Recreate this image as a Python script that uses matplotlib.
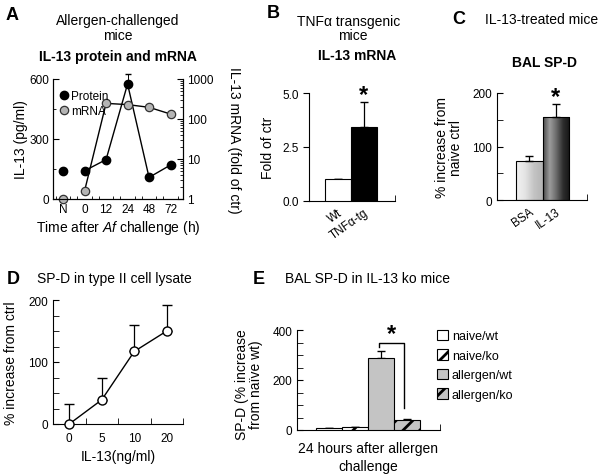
import numpy as np
import matplotlib.pyplot as plt
from matplotlib.colors import LinearSegmentedColormap
from matplotlib.ticker import MultipleLocator, FixedLocator, LogLocator, NullFormatter

plt.rcParams['font.family'] = ['Liberation Sans', 'DejaVu Sans']
plt.rcParams['mathtext.fontset'] = 'custom'
plt.rcParams['mathtext.it'] = 'Liberation Sans:italic'
plt.rcParams['mathtext.rm'] = 'Liberation Sans'
plt.rcParams['hatch.linewidth'] = 2.0
plt.rcParams['axes.linewidth'] = 0.8

# A: allergen-challenged mice, IL-13 protein and mRNA
a_times = ['N', '0', '12', '24', '48', '72']
a_protein = [141, 141, 197, 575, 108, 170]
a_protein_err = [10, 6, 8, 50, 5, 12]
a_mrna = [1.0, 1.6, 246, 229, 196, 133]

# B: TNFa transgenic mice, IL-13 mRNA
b_groups = ['Wt', 'TNFα-tg']
b_fold = [1.0, 3.44]
b_err = [0.02, 1.16]

# C: IL-13 treated mice, BAL SP-D
c_groups = ['BSA', 'IL-13']
c_increase = [72, 155]
c_err = [11, 24]

# D: SP-D in type II cell lysate
d_doses = ['0', '5', '10', '20']
d_increase = [0, 39, 117, 150]
d_err = [32, 35, 43, 42]

# E: BAL SP-D in IL-13 ko mice
e_groups = ['naive/wt', 'naive/ko', 'allergen/wt', 'allergen/ko']
e_increase = [9, 11, 287, 41]
e_err = [1, 1, 30, 3]

W, H = 601, 477
fig = plt.figure(figsize=(W / 100, H / 100), dpi=100)


def box(x0, y0, x1, y1):
    return [x0 / W, 1 - y1 / H, (x1 - x0) / W, (y1 - y0) / H]


def ftext(x, y, s, **kw):
    kw.setdefault('ha', 'center')
    kw.setdefault('va', 'center')
    fig.text(x / W, 1 - y / H, s, **kw)


TICK = 8.5
LAB = 10

# ---------------- A ----------------
ax = fig.add_axes(box(53, 80, 183, 200))
ax2 = ax.twinx()
x = np.arange(len(a_times))
ax.errorbar(x, a_protein, yerr=[np.zeros(len(a_protein_err)), a_protein_err],
            fmt='none', ecolor='k', elinewidth=0.7, capsize=2.5, clip_on=False,
            zorder=2)
ax.plot(x[1:], a_protein[1:], '-', color='k', lw=1, zorder=3)
hp, = ax.plot(x, a_protein, 'o', ms=6, mfc='k', mec='k', zorder=4,
              clip_on=False, label='Protein')
ax2.plot(x[1:], a_mrna[1:], '-', color='k', lw=1)
hm, = ax2.plot(x, a_mrna, 'o', ms=6, mfc='#b4b4b4', mec='#333333',
               mew=0.9, clip_on=False, label='mRNA')
ax.set_xlim(-0.47, 5.58)
ax.set_ylim(0, 600)
ax2.set_yscale('log')
ax2.set_ylim(1, 1000)
ax.set_yticks([0, 300, 600])
ax.yaxis.set_minor_locator(MultipleLocator(150))
ax2.set_yticks([1, 10, 100, 1000])
ax2.set_yticklabels(['1', '10', '100', '1000'])
ax2.yaxis.set_minor_locator(LogLocator(subs=np.arange(2, 10)))
ax2.yaxis.set_minor_formatter(NullFormatter())
ax.set_xticks(x)
ax.set_xticklabels(a_times)
minor_a = [i + f for i in range(-1, 6) for f in (1 / 3, 2 / 3)]
ax.xaxis.set_minor_locator(FixedLocator([m for m in minor_a if -0.47 < m < 5.58]))
for a in (ax, ax2):
    a.spines['top'].set_visible(False)
    a.tick_params(which='both', direction='in', labelsize=TICK, pad=3)
    a.tick_params(which='major', length=4)
    a.tick_params(which='minor', length=2.5)
ax.tick_params(axis='x', which='major', length=0)
ax2.legend(handles=[hp, hm], loc='upper left', frameon=False, fontsize=8.5,
           handlelength=0.6, handletextpad=0.3, borderaxespad=0.2,
           labelspacing=0.25, bbox_to_anchor=(0.0, 0.97))
ftext(12, 16, 'A', fontsize=13, fontweight='bold')
ftext(118, 21, 'Allergen-challenged', fontsize=LAB)
ftext(118, 36, 'mice', fontsize=LAB)
ftext(118, 57, 'IL-13 protein and mRNA', fontsize=LAB, fontweight='bold')
ftext(21, 140, 'IL-13 (pg/ml)', rotation=90, fontsize=LAB)
ftext(234, 140, 'IL-13 mRNA (fold of ctr)', rotation=270, fontsize=LAB)
ftext(118, 228, r'Time after $\it{Af}$ challenge (h)', fontsize=LAB)

# ---------------- B ----------------
ax = fig.add_axes(box(309, 94.5, 395, 201.5))
xb = np.arange(len(b_groups))
ax.bar(xb, b_fold, width=1, color=['white', 'black'], edgecolor='k', lw=0.8, zorder=3)
ax.errorbar(xb, b_fold, yerr=[np.zeros(len(b_err)), b_err], fmt='none',
            ecolor='k', elinewidth=0.9, capsize=3, zorder=2)
ax.text(xb[1], b_fold[1] + b_err[1] + 0.35, '*', ha='center', va='center',
        fontsize=17, fontweight='bold')
ax.set_xlim(-1.1, 2.2)
ax.set_ylim(0, 5)
ax.set_yticks([0, 2.5, 5])
ax.set_yticklabels(['0.0', '2.5', '5.0'])
ax.set_xticks(xb)
ax.set_xticklabels(b_groups, rotation=35, ha='right', rotation_mode='anchor')
ax.xaxis.set_minor_locator(FixedLocator([2.2]))
for s in ('top', 'right'):
    ax.spines[s].set_visible(False)
ax.tick_params(axis='y', direction='out', length=4, labelsize=TICK)
ax.tick_params(axis='x', which='major', length=0, labelsize=TICK, pad=4)
ax.tick_params(axis='x', which='minor', direction='in', length=4)
ftext(273, 14, 'B', fontsize=13, fontweight='bold')
ftext(349, 22, 'TNFα transgenic', fontsize=LAB)
ftext(353, 36, 'mice', fontsize=LAB)
ftext(357, 56, 'IL-13 mRNA', fontsize=LAB, fontweight='bold')
ftext(268, 148, 'Fold of ctr', rotation=90, fontsize=LAB)

# ---------------- C ----------------
ax = fig.add_axes(box(497, 94, 587, 201))
xc = np.arange(len(c_groups))
bars = ax.bar(xc, c_increase, width=1, color='none', edgecolor='k', lw=0.8, zorder=3)
grads = [
    LinearSegmentedColormap.from_list('bsa', ['#f2f2f2', '#e4e4e4', '#c4c4c4', '#b4b4b4']),
    LinearSegmentedColormap.from_list('il13', ['#4a4a4a', '#9c9c9c', '#6a6a6a', '#2e2e2e', '#141414']),
]
g = np.linspace(0, 1, 128).reshape(1, -1)
for b, cm in zip(bars, grads):
    x0 = b.get_x()
    ax.imshow(g, extent=(x0, x0 + b.get_width(), 0, b.get_height()),
              cmap=cm, aspect='auto', zorder=1)
ax.errorbar(xc, c_increase, yerr=[np.zeros(len(c_err)), c_err], fmt='none',
            ecolor='k', elinewidth=0.9, capsize=3, zorder=2)
ax.text(xc[1], c_increase[1] + c_err[1] + 14, '*', ha='center', va='center',
        fontsize=17, fontweight='bold')
ax.set_xlim(-1.24, 2.2)
ax.set_ylim(0, 200)
ax.set_yticks([0, 100, 200])
ax.yaxis.set_minor_locator(MultipleLocator(50))
ax.set_xticks(xc)
ax.set_xticklabels(c_groups, rotation=35, ha='right', rotation_mode='anchor')
ax.xaxis.set_minor_locator(FixedLocator([2.2]))
for s in ('top', 'right'):
    ax.spines[s].set_visible(False)
ax.tick_params(axis='y', which='both', direction='in', labelsize=TICK)
ax.tick_params(axis='y', which='major', length=4)
ax.tick_params(axis='y', which='minor', length=4)
ax.tick_params(axis='x', which='major', length=0, labelsize=TICK, pad=4)
ax.tick_params(axis='x', which='minor', direction='in', length=4)
ftext(459, 20, 'C', fontsize=13, fontweight='bold')
ftext(542, 20, 'IL-13-treated mice', fontsize=LAB)
ftext(545, 63, 'BAL SP-D', fontsize=LAB, fontweight='bold')
ftext(449, 148, '% increase from\nnaive ctrl', rotation=90, fontsize=LAB,
      linespacing=1.0)

# ---------------- D ----------------
ax = fig.add_axes(box(53, 301, 183, 425))
xd = np.arange(len(d_doses))
ax.errorbar(xd, d_increase, yerr=[np.zeros(len(d_err)), d_err], fmt='none',
            ecolor='k', elinewidth=0.9, capsize=3.5, zorder=2, clip_on=False)
ax.plot(xd, d_increase, '-o', color='k', lw=1, ms=6.5, mfc='white', mec='k',
        mew=1, zorder=3, clip_on=False)
ax.set_xlim(-0.5, 3.5)
ax.set_ylim(0, 200)
ax.set_yticks([0, 100, 200])
ax.yaxis.set_minor_locator(MultipleLocator(25))
ax.set_xticks(xd)
ax.set_xticklabels(d_doses)
ax.xaxis.set_minor_locator(FixedLocator(xd + 0.5))
for s in ('top', 'right'):
    ax.spines[s].set_visible(False)
ax.tick_params(which='both', direction='in', labelsize=TICK)
ax.tick_params(axis='y', which='both', length=4)
ax.tick_params(axis='x', which='major', length=0, pad=6)
ax.tick_params(axis='x', which='minor', length=4)
ftext(13, 279, 'D', fontsize=13, fontweight='bold')
ftext(114, 279, 'SP-D in type II cell lysate', fontsize=LAB)
ftext(11, 363, '% increase from ctrl', rotation=90, fontsize=LAB)
ftext(118, 457, 'IL-13(ng/ml)', fontsize=LAB)

# ---------------- E ----------------
ax = fig.add_axes(box(297, 331, 440, 431))
xe = np.arange(len(e_groups))
e_colors = ['white', 'white', '#c4c4c4', '#c4c4c4']
e_hatch = [None, '//', None, '//']
ebars = ax.bar(xe, e_increase, width=0.97, color=e_colors, edgecolor='k',
               lw=0.8, zorder=3)
for b, h in zip(ebars, e_hatch):
    b.set_hatch(h)
ax.errorbar(xe, e_increase, yerr=[np.zeros(len(e_err)), e_err], fmt='none',
            ecolor='k', elinewidth=0.9, capsize=3, zorder=2)
top_wt = e_increase[2] + e_err[2]
br_y = top_wt + 31
ax.plot([xe[2] - 0.08, xe[2] - 0.08, xe[3] - 0.12, xe[3] - 0.12],
        [top_wt + 14, br_y, br_y, e_increase[3] + 47], color='k', lw=1)
ax.text((xe[2] + xe[3]) / 2 - 0.08, br_y + 36, '*', ha='center', va='center',
        fontsize=17, fontweight='bold')
ax.set_xlim(-1.23, 4.27)
ax.set_ylim(0, 400)
ax.set_yticks([0, 200, 400])
ax.yaxis.set_minor_locator(MultipleLocator(50))
ax.set_xticks([])
ax.xaxis.set_minor_locator(FixedLocator([4.27]))
for s in ('top', 'right'):
    ax.spines[s].set_visible(False)
ax.tick_params(axis='y', which='both', direction='in', length=4, labelsize=TICK)
ax.tick_params(axis='x', which='minor', direction='in', length=4)
fig.legend(handles=list(ebars), labels=e_groups, loc='upper left',
           bbox_to_anchor=(432 / W, 1 - 326 / H), frameon=False, fontsize=9,
           handlelength=0.9, handleheight=0.9, handletextpad=0.3,
           labelspacing=0.55, borderaxespad=0)
ftext(259, 280, 'E', fontsize=13, fontweight='bold')
ftext(285, 279, 'BAL SP-D in IL-13 ko mice', fontsize=LAB, ha='left')
ftext(249, 385, 'SP-D (% increase\nfrom naïve wt)', rotation=90, fontsize=LAB,
      linespacing=1.0)
ftext(368, 458, '24 hours after allergen\nchallenge', fontsize=LAB,
      linespacing=1.3)

fig.savefig('out.png', dpi=100)
